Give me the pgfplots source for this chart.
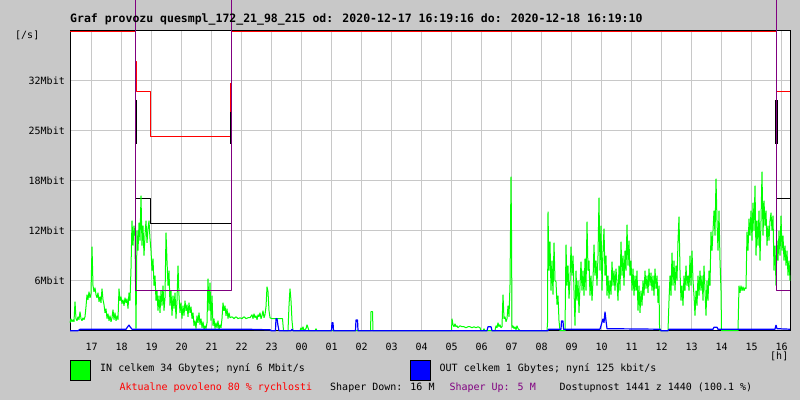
\documentclass[border=0pt]{standalone}
\usepackage{pgfplots}
\pgfplotsset{compat=1.18}
\usepackage{fontspec}
\setmainfont{DejaVu Sans Mono}
\definecolor{bg}{RGB}{200,200,200}
\definecolor{gridc}{RGB}{200,200,200}
\definecolor{ingreen}{RGB}{0,255,0}
\definecolor{outblue}{RGB}{0,0,255}
\definecolor{shred}{RGB}{255,0,0}
\definecolor{shpurple}{RGB}{128,0,128}
\newcommand\f{\fontsize{10pt}{12pt}\selectfont}
\begin{document}
\begin{tikzpicture}[x=1pt,y=1pt]
\useasboundingbox (0,0) rectangle (800,400);
\fill[bg] (0,0) rectangle (800,400);
\clip (0,0) rectangle (800,400);
\begin{axis}[
  at={(70pt,69.3pt)}, anchor=south west,
  width=720pt, height=300pt, scale only axis,
  xmin=0, xmax=1440, ymin=0, ymax=38.4,
  clip=false,
  axis background/.style={fill=white},
  axis line style={black, line width=1pt},
  xtick={43.4,103.4,163.4,223.4,283.4,343.4,403.4,463.4,523.4,583.4,643.4,703.4,763.4,823.4,883.4,943.4,1003.4,1063.4,1123.4,1183.4,1243.4,1303.4,1363.4,1423.4},
  xticklabels={17,18,19,20,21,22,23,00,01,02,03,04,05,06,07,08,09,10,11,12,13,14,15,16},
  ytick={6.4,12.8,19.2,25.6,32},
  yticklabels={6Mbit,12Mbit,18Mbit,25Mbit,32Mbit},
  major tick length=0pt,
  grid=major, major grid style={gridc, line width=1pt},
  xticklabel style={font=\f, anchor=base, yshift=-20pt},
  yticklabel style={font=\f, anchor=east, inner sep=0pt, xshift=-5pt},
  /pgf/number format/assume math mode=true,
  every axis plot/.append style={line join=bevel},
]
% shaper lines (red)
\addplot[shred, line width=1pt] coordinates {(0,38.27)(131,38.27)(131,34.5)(133,34.5)(133,30.68)(161,30.68)(161,24.9)(320.6,24.9)(320.6,31.7)(322.6,31.7)(322.6,38.27)(1412,38.27)(1412,34.5)(1413.4,34.5)(1413.4,30.68)(1440,30.68)};
% black
\addplot[black, line width=1pt] coordinates {(0,38.4)(131,38.4)(131,16.86)(160.6,16.86)(160.6,13.66)(322.6,13.66)(322.6,38.4)(1412,38.4)(1412,16.86)(1440,16.86)};
\addplot[black, line width=2.5pt] coordinates {(131.5,29.5)(131.5,23.9)};
\addplot[black, line width=2.5pt] coordinates {(321.8,28.0)(321.8,23.9)};
\addplot[black, line width=2.5pt] coordinates {(1412.5,29.5)(1412.5,23.9)};
% IN (green)
\addplot[ingreen, line width=1pt] coordinates {
(0,1.02)(2,1.54)(4,1.15)(6,1.41)(8,1.15)(10,3.71)(12,1.54)(14,1.28)(16,1.79)(18,1.41)
(20,2.43)(22,1.54)(24,1.28)(26,1.66)(28,1.41)(30,1.79)(32,3.07)(34,4.61)(36,3.97)(38,4.99)
(40,4.22)(42,4.74)(44,10.75)(46,5.76)(48,4.99)(50,5.50)(52,4.61)(54,4.22)(56,4.86)(58,3.71)
(60,4.35)(62,3.58)(64,5.38)(66,3.97)(68,3.33)(70,2.30)(72,2.82)(74,1.54)(76,2.18)(78,1.28)
(80,1.92)(82,1.15)(84,1.66)(86,2.69)(88,1.41)(90,2.30)(92,1.28)(94,1.92)(96,1.41)(98,5.38)
(100,3.84)(102,4.35)(104,3.46)(106,3.97)(108,3.20)(110,4.22)(112,3.58)(114,4.10)(116,2.82)(118,4.86)
(120,3.84)(122,7.94)(124,14.08)(126,10.88)(128,13.44)(130,12.16)(132,0.26)(134,12.8)(136,10.24)(138,13.82)
(140,11.52)(142,17.28)(144,10.88)(146,13.44)(148,9.60)(150,12.16)(152,14.08)(154,11.26)(156,13.06)(158,14.08)
(160,11.78)(162,10.24)(164,7.68)(166,9.22)(168,5.76)(170,7.04)(172,3.84)(174,5.12)(176,2.56)(178,4.48)
(180,2.30)(182,5.12)(184,3.20)(186,5.76)(188,2.56)(190,4.22)(192,12.54)(194,8.96)(196,5.76)(198,7.68)
(200,3.20)(202,5.12)(204,1.92)(206,4.48)(208,2.82)(210,4.86)(212,1.54)(214,3.84)(216,8.32)(218,4.48)
(220,2.30)(222,3.58)(224,1.54)(226,3.20)(228,1.92)(230,3.84)(232,2.56)(234,3.33)(236,1.79)(238,3.58)
(240,2.30)(242,3.07)(244,1.54)(246,2.30)(248,0.64)(250,1.28)(252,0.26)(254,1.92)(256,1.02)(258,2.30)
(260,0.77)(262,1.54)(264,0.38)(266,1.15)(268,0.13)(270,0.64)(272,0.26)(274,1.02)(276,6.66)(278,2.56)
(280,6.14)(282,1.28)(284,4.48)(286,0.64)(288,1.54)(290,0.26)(292,1.02)(294,0.38)(296,1.28)(298,0.13)
(300,0.77)(302,0.38)(304,1.54)(306,3.58)(308,2.56)(310,3.20)(312,1.92)(314,2.82)(316,1.54)(318,2.30)
(320,1.66)(324,1.79)(328,1.54)(332,1.79)(336,1.54)(340,1.66)(344,1.54)(348,1.79)(352,1.54)(356,1.66)
(360,1.66)(364,2.05)(366,1.54)(368,2.18)(370,1.66)(372,1.92)(374,1.41)(376,2.05)(378,1.79)(380,2.30)
(382,1.54)(384,1.92)(386,2.56)(388,1.66)(390,2.05)(392,3.07)(394,5.63)(396,4.99)(398,2.56)(400,1.66)
(404,1.54)(412,1.54)(420,1.54)(425,1.54)(427,0)(436,0)(438,3.20)(440,5.38)(442,3.84)(444,1.28)
(446,0)(460,0)(462,0.38)(464,0.13)(466,0.51)(468,0)(472,0.26)(474,0.77)(476,0.38)(478,0)
(490,0)(492,0.26)(494,0)(601,0)(602,2.43)(605,2.43)(606,0)(763,0)(764,1.54)(766,0.77)
(768,0.51)(770,0.90)(772,0.51)(774,0.64)(776,0.38)(780,0.64)(784,0.51)(788,0.51)(792,0.38)(796,0.51)
(800,0.51)(804,0.38)(808,0.51)(812,0.38)(816,0.51)(820,0.38)(822,0)(826,0)(828,0.26)(830,0)
(850,0)(852,0.64)(854,0.38)(856,1.02)(858,0.51)(860,0.77)(862,0.38)(864,0.51)(866,4.61)(868,1.54)
(870,1.79)(872,1.15)(874,1.54)(876,3.20)(878,1.79)(880,5.89)(882,19.71)(883,12.8)(884,0.38)(886,0.64)
(888,0.26)(890,0.51)(892,0.13)(894,0.64)(896,0.26)(900,0)(954,0)(955,1.02)(956,15.23)(958,7.68)
(960,11.39)(962,5.12)(964,8.96)(966,4.61)(968,11.26)(970,6.40)(972,6.27)(974,3.33)(976,4.48)(978,1.28)
(980,0)(990,0)(992,11.01)(994,5.76)(996,8.32)(998,4.10)(1000,6.40)(1002,10.75)(1004,7.04)(1006,9.60)
(1008,5.12)(1010,0.64)(1012,7.68)(1014,3.84)(1016,6.40)(1018,2.30)(1020,5.76)(1022,8.83)(1024,5.12)(1026,7.68)
(1028,4.48)(1030,9.22)(1032,5.12)(1034,13.95)(1036,7.68)(1038,8.96)(1040,4.48)(1042,7.04)(1044,3.84)(1046,6.40)
(1048,11.01)(1050,7.04)(1052,8.96)(1054,5.76)(1056,9.60)(1058,17.02)(1060,7.68)(1062,13.44)(1064,5.12)(1066,10.24)
(1068,13.06)(1070,7.04)(1072,9.60)(1074,4.48)(1076,7.04)(1078,4.10)(1080,6.40)(1082,4.61)(1084,8.83)(1086,5.76)
(1088,7.68)(1090,5.12)(1092,7.94)(1094,6.14)(1096,3.84)(1098,8.32)(1100,5.12)(1102,11.39)(1104,7.04)(1106,9.60)
(1108,5.76)(1110,10.24)(1112,7.68)(1114,13.57)(1116,8.32)(1118,11.52)(1120,7.04)(1122,8.96)(1124,5.12)(1126,7.94)
(1128,4.48)(1130,7.04)(1132,5.12)(1134,7.68)(1136,2.56)(1138,5.76)(1140,2.30)(1142,5.12)(1144,3.20)(1146,6.40)
(1148,4.48)(1150,7.68)(1152,5.38)(1154,7.04)(1156,4.86)(1158,7.94)(1160,5.76)(1162,7.42)(1164,5.12)(1166,7.04)
(1168,4.48)(1170,7.94)(1172,5.38)(1174,7.04)(1176,3.58)(1178,5.76)(1179,0.64)(1180,0)(1196,0)(1198,3.84)
(1200,7.04)(1202,4.48)(1204,9.98)(1206,5.76)(1208,8.96)(1210,5.12)(1212,8.32)(1214,6.40)(1216,11.52)(1218,14.59)
(1220,7.68)(1222,3.84)(1224,5.76)(1226,3.20)(1228,7.04)(1230,5.12)(1232,8.32)(1234,5.76)(1236,7.04)(1238,5.12)
(1240,9.60)(1242,5.76)(1244,10.24)(1246,6.40)(1248,4.48)(1250,1.92)(1252,5.12)(1254,3.20)(1256,7.04)(1258,4.48)
(1260,7.68)(1262,5.12)(1264,7.04)(1266,3.84)(1268,8.32)(1270,5.12)(1272,1.92)(1274,6.40)(1276,3.84)(1278,7.68)
(1280,5.76)(1282,12.67)(1284,10.24)(1286,12.80)(1288,15.36)(1290,12.16)(1292,19.46)(1294,14.08)(1296,10.24)(1298,15.36)
(1300,8.96)(1302,5.12)(1303,0)(1336,0)(1338,5.76)(1340,4.86)(1342,5.76)(1344,5.12)(1346,5.63)(1348,5.12)
(1350,5.50)(1352,5.38)(1354,12.67)(1356,10.24)(1358,14.34)(1360,12.16)(1362,15.36)(1364,11.52)(1366,16.38)(1368,12.80)
(1370,18.56)(1372,9.60)(1374,14.08)(1376,10.88)(1378,15.36)(1380,8.96)(1382,14.08)(1384,20.35)(1386,12.16)(1388,16.64)
(1390,13.44)(1392,15.36)(1394,10.88)(1396,13.44)(1398,11.52)(1400,14.08)(1402,15.10)(1404,12.80)(1406,14.72)(1408,7.68)
(1410,10.88)(1412,5.76)(1414,11.52)(1416,8.96)(1418,12.80)(1420,9.60)(1422,14.72)(1424,10.24)(1426,12.16)(1428,8.96)
(1430,10.88)(1432,8.32)(1434,10.24)(1436,7.04)(1438,8.96)(1440,6.40)
};
% OUT (blue)
\addplot[outblue, line width=1.2pt] coordinates {
(0,0)(16,0)(20,0.18)(112,0.18)(114,0.38)(118,0.73)(120,0.51)(124,0.19)(360,0.18)(392,0.13)
(400,0.13)(402,0)(411,0)(412,1.54)(414,1.54)(416,0.64)(418,0)(442,0)(444,0.19)(446,0)
(523,0)(524,1.02)(526,1.02)(527,0)(571,0)(572,1.37)(575,1.37)(576,0)(834,0)(836,0.51)
(842,0.51)(844,0)(956,0)(957,0.19)(982,0.19)(983,1.24)(986,1.24)(987,0.19)(1060,0.19)(1062,0.64)
(1066,1.54)(1068,1.02)(1070,2.43)(1072,1.28)(1074,0.26)(1180,0.19)(1182,0)(1196,0)(1198,0.19)(1286,0.19)
(1288,0.44)(1294,0.44)(1296,0.19)(1410,0.19)(1412,0.73)(1414,0.26)(1440,0.19)
};
% shaper up (purple)
\addplot[shpurple, line width=1pt] coordinates {(131,60)(131,5.21)(322.6,5.21)(322.6,60)};
\addplot[shpurple, line width=1pt] coordinates {(1412,60)(1412,5.21)(1440,5.21)};
\end{axis}
\node[anchor=base west, inner sep=0pt, font=\bfseries\fontsize{11.5pt}{14pt}\selectfont] at (70,377.3) {Graf provozu quesmpl\_172\_21\_98\_215 od: 2020-12-17 16:19:16 do: 2020-12-18 16:19:10};
\node[anchor=base west, inner sep=0pt, font=\f] at (15,361.5) {[/s]};
\node[anchor=base west, inner sep=0pt, font=\f] at (770,40.5) {[h]};
\filldraw[fill=ingreen, draw=black, line width=1pt] (70.5,19.8) rectangle (90.2,39.5);
\filldraw[fill=outblue, draw=black, line width=1pt] (410.5,19.8) rectangle (430.2,39.5);
\node[anchor=base west, inner sep=0pt, font=\f] at (100,29) {IN celkem 34 Gbytes; nyní 6 Mbit/s};
\node[anchor=base west, inner sep=0pt, font=\f] at (439.5,29) {OUT celkem 1 Gbytes; nyní 125 kbit/s};
\node[anchor=base west, inner sep=0pt, font=\f, text=shred] at (119.3,9.3) {Aktualne povoleno 80 \% rychlosti};
\node[anchor=base west, inner sep=0pt, font=\f] at (330,9.3) {Shaper Down: 16 M};
\node[anchor=base west, inner sep=0pt, font=\f, text=shpurple] at (449.3,9.3) {Shaper Up: 5 M};
\node[anchor=base west, inner sep=0pt, font=\f] at (559.3,9.3) {Dostupnost 1441 z 1440 (100.1 \%)};
\end{tikzpicture}
\end{document}
